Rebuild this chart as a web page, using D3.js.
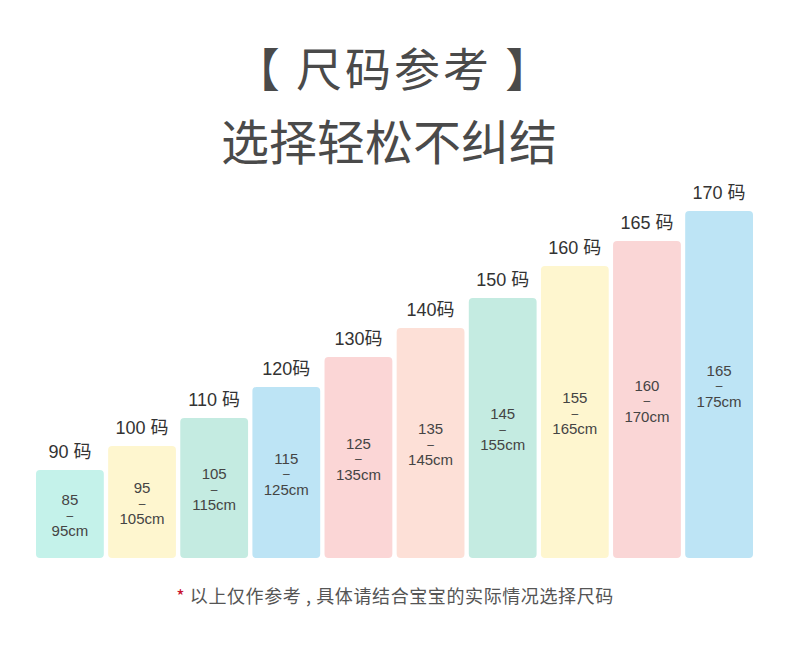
<!DOCTYPE html>
<html>
<head>
<meta charset="utf-8">
<style>
  body { margin: 0; background: #fff; }
  svg { display: block; font-family: "Noto Sans CJK SC", "Liberation Sans", Arial, sans-serif; }
</style>
</head>
<body>
  <svg width="790" height="666"></svg>

  <script src="https://d3js.org/d3.v7.min.js"></script>

  <script>
    // size labels over each bar (some written with a space, some without, as in the picture)
    const sizes = ["90 码", "100 码", "110 码", "120码", "130码", "140码", "150 码", "160 码", "165 码", "170 码"];
    // height range printed inside each bar
    const rangeFrom = ["85", "95", "105", "115", "125", "135", "145", "155", "160", "165"];
    const rangeTo = ["95cm", "105cm", "115cm", "125cm", "135cm", "145cm", "155cm", "165cm", "170cm", "175cm"];
    // bar heights (pixel-ish units)
    const barHeight = [88, 112, 140, 171, 201, 230, 260, 292, 317, 347];
    const colors = ["#c4f2ea", "#fef6cf", "#c4ebe1", "#bde4f5", "#fbd6d6", "#fde0d7", "#c4ebe1", "#fef6cf", "#fad6d6", "#bde4f5"];

    const svg = d3.select("svg");

    // title lines
    svg.append("text")
      .attr("x", 394).attr("y", 66)
      .attr("text-anchor", "middle")
      .attr("dominant-baseline", "central")
      .attr("font-size", 46)
      .attr("letter-spacing", 3)
      .attr("fill", "#4a4a4a")
      .text("【 尺码参考 】");

    svg.append("text")
      .attr("x", 389).attr("y", 139)
      .attr("text-anchor", "middle")
      .attr("dominant-baseline", "central")
      .attr("font-size", 48)
      .attr("fill", "#4a4a4a")
      .text("选择轻松不纠结");

    // band scale for the bars
    const x = d3.scaleBand()
      .domain(sizes)
      .range([36, 753])
      .paddingInner(0.06);

    const y = d3.scaleLinear()
      .domain([0, 347])
      .range([558, 211]);

    const g = svg.append("g");

    const bars = g.selectAll("g.bar")
      .data(sizes)
      .join("g")
      .attr("class", "bar");

    bars.append("rect")
      .attr("x", d => x(d))
      .attr("y", (d, i) => y(barHeight[i]))
      .attr("width", x.bandwidth())
      .attr("height", (d, i) => y(0) - y(barHeight[i]))
      .attr("rx", 4)
      .attr("fill", (d, i) => colors[i]);

    // size label above bar
    bars.append("text")
      .attr("x", d => x(d) + x.bandwidth() / 2)
      .attr("y", (d, i) => y(barHeight[i]) - 12)
      .attr("text-anchor", "middle")
      .attr("font-family", "Liberation Sans, Noto Sans CJK SC, sans-serif")
      .attr("font-size", 18)
      .attr("fill", "#333")
      .text(d => d);

    // range text, centred in the bar
    const mid = i => (y(barHeight[i]) + y(0)) / 2;
    const cx = d => x(d) + x.bandwidth() / 2;

    const rangeText = (dy, size, fn) => bars.append("text")
      .attr("x", cx)
      .attr("y", (d, i) => mid(i) + dy)
      .attr("text-anchor", "middle")
      .attr("font-family", "Liberation Sans, Arial, sans-serif")
      .attr("font-size", size)
      .attr("fill", "#444")
      .text(fn);

    rangeText(-9, 15, (d, i) => rangeFrom[i]);
    rangeText(5.5, 12, () => "–");
    rangeText(22, 15, (d, i) => rangeTo[i]);

    // footnote
    const note = svg.append("text")
      .attr("x", 395).attr("y", 603)
      .attr("text-anchor", "middle")
      .attr("font-size", 18)
      .attr("letter-spacing", 0.6)
      .attr("fill", "#555");
    note.append("tspan").attr("fill", "#c8102e").text("* ");
    note.append("tspan").text("以上仅作参考 , 具体请结合宝宝的实际情况选择尺码");
  </script>
</body>
</html>
